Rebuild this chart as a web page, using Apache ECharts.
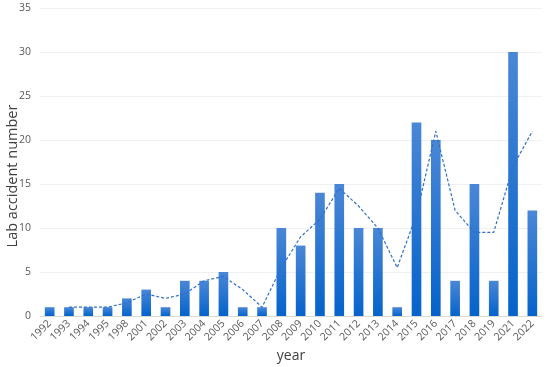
<!DOCTYPE html>
<html><head><meta charset="utf-8">
<script src="https://cdn.jsdelivr.net/npm/echarts@6/dist/echarts.min.js"></script>
<style>html,body{margin:0;padding:0;background:#fff}#c{width:550px;height:367px}</style>
</head><body><div id="c"></div>
<script>
const years = ['1992','1993','1994','1995','1998','2001','2002','2003','2004','2005','2006','2007','2008','2009','2010','2011','2012','2013','2014','2015','2016','2017','2018','2019','2021','2022'];
const accidents = [1,1,1,1,2,3,1,4,4,5,1,1,10,8,14,15,10,10,1,22,20,4,15,4,30,12];
const movingAvg = [null,1,1,1,1.5,2.5,2,2.5,4,4.5,3,1,5.5,9,11,14.5,12.5,10,5.5,11.5,21,12,9.5,9.5,17,21];
const yTicks = [0,5,10,15,20,25,30,35];

const chart = echarts.init(document.getElementById('c'), null, {renderer:'canvas'});
chart.setOption({
  animation:false,
  grid:{left:40,right:8,top:8,bottom:51,containLabel:false,outerBoundsMode:'none'},
  xAxis:{
    type:'category', data:years,
    name:'year', nameLocation:'middle', nameGap:33, nameMoveOverlap:false,
    nameTextStyle:{color:'#404040',fontSize:14,fontFamily:'Open Sans'},
    axisLine:{lineStyle:{color:'#d9d9d9'}},
    axisTick:{show:false},
    axisLabel:{rotate:45,color:'#595959',fontSize:10.5,fontFamily:'Open Sans',interval:0,margin:6}
  },
  yAxis:{
    type:'value', min:yTicks[0], max:yTicks[yTicks.length-1], interval:5,
    name:'Lab accident number', nameLocation:'middle', nameGap:20, nameMoveOverlap:false,
    nameTextStyle:{color:'#404040',fontSize:14.5,fontFamily:'Open Sans',padding:[0,28,0,0]},
    axisLine:{show:false}, axisTick:{show:false},
    axisLabel:{color:'#595959',fontSize:10.5,fontFamily:'Open Sans',margin:9},
    splitLine:{lineStyle:{color:'#eef0f2'}}
  },
  series:[
    {type:'bar', data:accidents, barWidth:'50%',
     itemStyle:{color:new echarts.graphic.LinearGradient(0,0,0,1,[{offset:0,color:'#4a87d6'},{offset:1,color:'#0563cb'}])}},
    {type:'line', data:movingAvg, symbol:'none', connectNulls:false,
     lineStyle:{color:'#2e6fcb',width:1.2,type:[3,2]}}
  ]
});
</script></body></html>
